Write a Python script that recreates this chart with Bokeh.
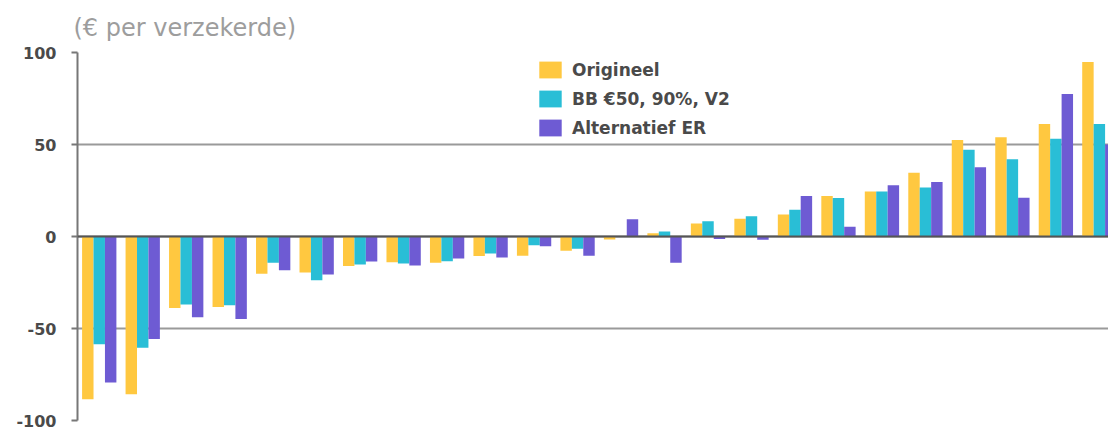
from bokeh.plotting import figure
from bokeh.models import Range1d, Span, Legend, LegendItem, Title, FixedTicker
from bokeh.embed import file_html
from bokeh.resources import INLINE

# Difference per insured person for each group, three scenarios
groups = list(range(24))
origineel = [-88.4, -85.7, -38.9, -38.3, -20.3, -19.6, -16.1, -14.0, -14.2, -10.6, -10.4, -7.8,
             -1.6, 1.8, 7.1, 9.6, 12.0, 22.0, 24.5, 34.7, 52.4, 54.0, 61.1, 94.9]
bb_50_90_v2 = [-58.5, -60.5, -37.0, -37.4, -14.3, -23.8, -15.2, -14.7, -13.5, -9.3, -4.7, -6.6,
               0.0, 2.7, 8.3, 11.0, 14.5, 20.9, 24.5, 26.6, 47.1, 42.0, 53.1, 61.1]
alternatief_er = [-79.4, -55.7, -43.9, -44.8, -18.3, -20.7, -13.6, -15.8, -12.0, -11.4, -5.3, -10.4,
                  9.4, -14.2, -1.3, -1.8, 22.0, 5.3, 27.8, 29.6, 37.6, 21.1, 77.4, 50.0]

series_names = ["Origineel", "BB €50, 90%, V2", "Alternatief ER"]
series_values = [origineel, bb_50_90_v2, alternatief_er]
series_colors = ["#FFC840", "#29BED6", "#6E5BD3"]
y_ticks = [-100, -50, 0, 50, 100]
y_tick_labels = ["-100", "-50", "0", "50", "100"]
unit_text = "(€ per verzekerde)"

LABEL_FONT = "DejaVu Sans"
bar_w = 0.263

p = figure(width=1108, height=427, output_backend="svg", toolbar_location=None,
           x_range=Range1d(-0.5, 23.21), y_range=Range1d(-100, 100),
           x_axis_location=None, min_border_left=77, min_border_right=0,
           min_border_top=52, min_border_bottom=7)
p.outline_line_color = None
p.background_fill_color = "white"
p.border_fill_color = "white"

items = []
offsets = [-bar_w, 0.0, bar_w]
for name, vals, col, off in zip(series_names, series_values, series_colors, offsets):
    xs = [g + off for g in groups]
    r = p.vbar(x=xs, top=vals, bottom=0, width=bar_w, fill_color=col, line_color=None)
    items.append(LegendItem(label=name, renderers=[r]))

# grid and axis styling
p.xgrid.visible = False
p.ygrid.ticker = FixedTicker(ticks=y_ticks)
p.ygrid.grid_line_color = "#9a9a9a"
p.ygrid.grid_line_width = 2
p.yaxis.ticker = FixedTicker(ticks=y_ticks)
p.yaxis.major_label_overrides = dict(zip(y_ticks, y_tick_labels))
p.yaxis.axis_line_color = "#777777"
p.yaxis.axis_line_width = 2
p.yaxis.major_tick_line_color = "#777777"
p.yaxis.major_tick_line_width = 2
p.yaxis.major_tick_out = 6
p.yaxis.major_tick_in = 0
p.yaxis.minor_tick_line_color = None
p.yaxis.major_label_standoff = 15
p.yaxis.major_label_text_font = LABEL_FONT
p.yaxis.major_label_text_font_style = "bold"
p.yaxis.major_label_text_font_size = "16px"
p.yaxis.major_label_text_color = "#4a4a4a"

zero = Span(location=0, dimension="width", line_color="#555555", line_width=2)
p.add_layout(zero)

legend = Legend(items=items, location=(459, 282), orientation="vertical",
                glyph_width=28, glyph_height=21, label_standoff=8, spacing=8,
                padding=0, margin=0, border_line_alpha=0, background_fill_alpha=0,
                label_text_font=LABEL_FONT, label_text_font_style="bold",
                label_text_font_size="17px", label_text_color="#4a4a4a",
                label_height=21)
p.add_layout(legend, "center")

# unit caption above the frame, left-aligned with the axis
p.title = Title(text=unit_text, text_font=LABEL_FONT, text_font_style="normal",
                text_font_size="24px", text_color="#9d9d9d", align="left",
                offset=-4, standoff=22)

open("out.html", "w").write(file_html(p, INLINE))
